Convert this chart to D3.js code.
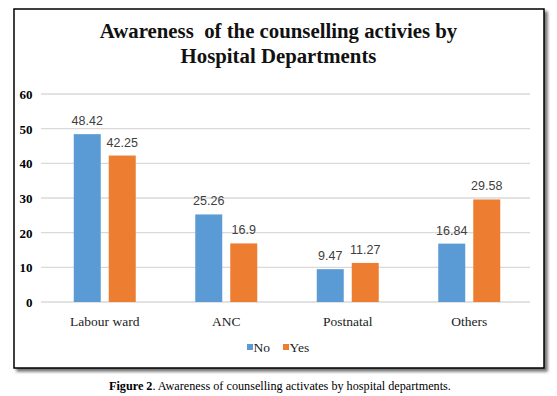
<!DOCTYPE html>
<html><head><meta charset="utf-8">
<script src="https://cdn.jsdelivr.net/npm/d3@7/dist/d3.min.js"></script>
<style>html,body{margin:0;padding:0;background:#fff;}svg{display:block;}</style>
</head><body>
<svg id="c" width="557" height="396"></svg>
<script>
const categories = ["Labour ward", "ANC", "Postnatal", "Others"];
const seriesNames = ["No", "Yes"];
const noValues = [48.42, 25.26, 9.47, 16.84];
const yesValues = [42.25, 16.9, 11.27, 29.58];
const yTicks = [0, 10, 20, 30, 40, 50, 60];
const colors = ["#5b9bd5", "#ed7d31"];
const titleLines = ["Awareness  of the counselling activies by", "Hospital Departments"];

const svg = d3.select("#c");
const defs = svg.append("defs");
const f = defs.append("filter").attr("id","sh").attr("x","-5%").attr("y","-5%").attr("width","115%").attr("height","115%");
f.append("feGaussianBlur").attr("in","SourceAlpha").attr("stdDeviation",1.8);
f.append("feOffset").attr("dx",3).attr("dy",3).attr("result","b");
f.append("feComponentTransfer").append("feFuncA").attr("type","linear").attr("slope",0.55);
const m = f.append("feMerge"); m.append("feMergeNode"); m.append("feMergeNode").attr("in","SourceGraphic");

svg.append("rect").attr("x",14).attr("y",9).attr("width",530).attr("height",359)
  .attr("fill","#fff").attr("stroke","#000").attr("stroke-width",1.5).attr("filter","url(#sh)");

const x0 = d3.scaleBand().domain(categories).range([44, 530]).padding(0);
const x1 = d3.scaleBand().domain(seriesNames).range([x0.bandwidth()/2 - 31, x0.bandwidth()/2 + 31]).paddingInner(0.2286);
const y = d3.scaleLinear().domain([0, 60]).range([302, 94]);

// gridlines
svg.append("g").selectAll("line").data(yTicks).join("line")
  .attr("x1",41).attr("x2",530).attr("y1",d=>y(d)).attr("y2",d=>y(d))
  .attr("stroke","#d9d9d9").attr("stroke-width",1.3);

// y axis
const ya = svg.append("g").attr("transform","translate(32.5,0)")
  .call(d3.axisLeft(y).tickValues(yTicks).tickSize(0).tickPadding(0));
ya.select(".domain").remove();
ya.selectAll("text").attr("x",0).attr("text-anchor","end").attr("font-family","Liberation Serif").attr("font-weight","bold")
  .attr("font-size",13).attr("fill","#000").attr("dy","0.35em");

// x axis
const xa = svg.append("g").attr("transform","translate(0,302)")
  .call(d3.axisBottom(x0).tickSize(0).tickPadding(14));
xa.select(".domain").remove();
xa.selectAll("text").attr("font-family","Liberation Serif").attr("font-size",13.5).attr("fill","#222");

const data = categories.map((c,i)=>({cat:c, vals:[{s:"No",v:noValues[i]},{s:"Yes",v:yesValues[i]}]}));
const g = svg.append("g").selectAll("g").data(data).join("g")
  .attr("transform",d=>`translate(${x0(d.cat)},0)`);
g.selectAll("rect").data(d=>d.vals).join("rect")
  .attr("x",d=>x1(d.s)).attr("width",x1.bandwidth())
  .attr("y",d=>y(d.v)).attr("height",d=>y(0)-y(d.v))
  .attr("fill",(d,i)=>colors[i]);
g.selectAll("text").data(d=>d.vals).join("text")
  .attr("x",d=>x1(d.s)+x1.bandwidth()/2).attr("y",d=>y(d.v)-9)
  .attr("text-anchor","middle").attr("font-family","Liberation Sans").attr("font-size",12.5)
  .attr("fill","#404040").text(d=>d.v);

// title
svg.append("g").selectAll("text").data(titleLines).join("text")
  .attr("x",278.5).attr("y",(d,i)=>38+i*25).attr("text-anchor","middle")
  .attr("font-family","Liberation Serif").attr("font-weight","bold").attr("font-size",20.8)
  .style("white-space","pre").attr("fill","#111").text(d=>d);

// legend
const lg = svg.append("g").selectAll("g").data(seriesNames).join("g")
  .attr("transform",(d,i)=>`translate(${247+i*36},0)`);
lg.append("rect").attr("x",0).attr("y",344).attr("width",6).attr("height",6).attr("fill",(d,i)=>colors[i]);
lg.append("text").attr("x",6.5).attr("y",352).attr("font-family","Liberation Serif").attr("font-size",13.5)
  .attr("fill","#222").text(d=>d);

// caption
const cap = svg.append("text").attr("x",109).attr("y",390).attr("font-family","Liberation Serif")
  .attr("font-size",12.2).attr("fill","#000");
cap.append("tspan").attr("font-weight","bold").text("Figure 2");
cap.append("tspan").text(". Awareness of counselling activates by hospital departments.");
</script>
</body></html>
